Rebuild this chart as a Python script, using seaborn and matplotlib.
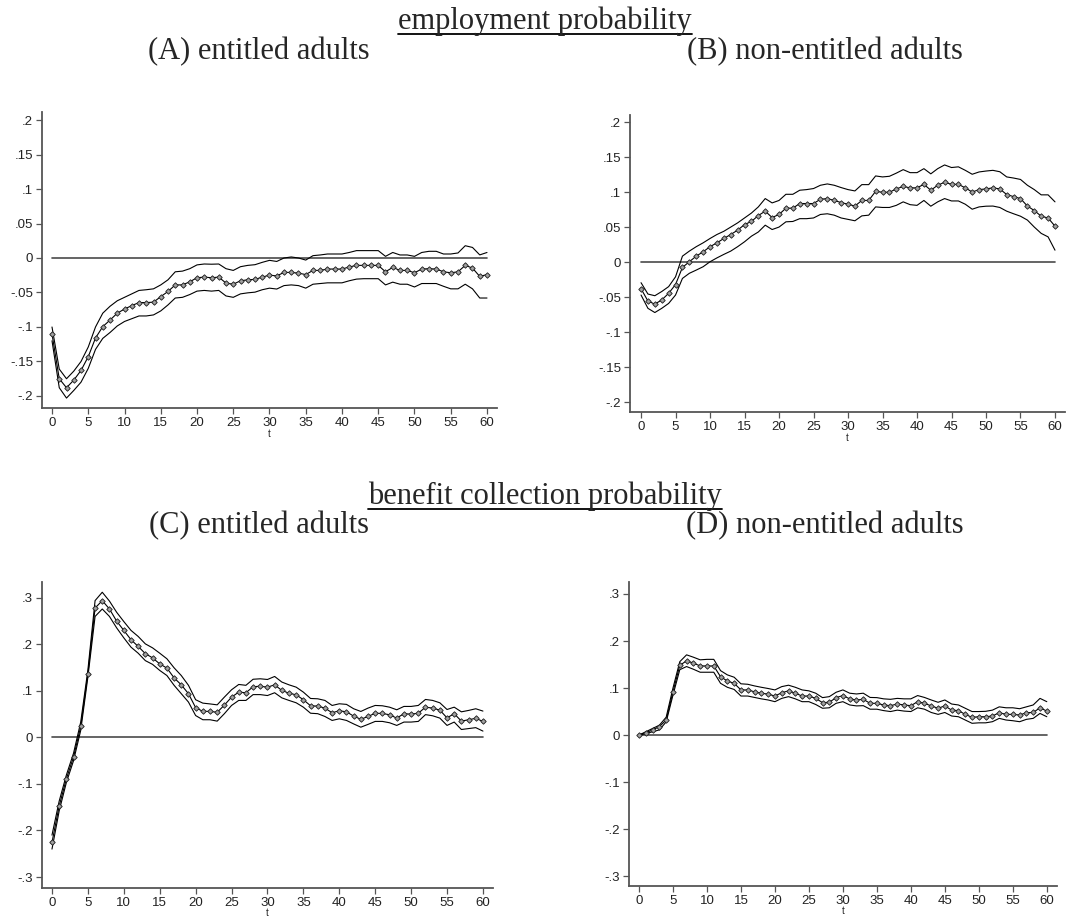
import numpy as np
import pandas as pd
import matplotlib
matplotlib.use("Agg")
import matplotlib.pyplot as plt
from matplotlib.lines import Line2D
from matplotlib.ticker import FuncFormatter
import seaborn as sns

# ---------------- data ----------------
t = list(range(61))

emp_ent_mean = [-0.110, -0.175, -0.188, -0.177, -0.163, -0.143, -0.116, -0.0995, -0.090, -0.080,
                -0.074, -0.069, -0.0646, -0.0646, -0.064, -0.056, -0.0485, -0.039, -0.039, -0.0345,
                -0.0286, -0.0277, -0.0286, -0.0277, -0.0364, -0.038, -0.033, -0.0316, -0.031, -0.0277,
                -0.0248, -0.026, -0.0209, -0.0209, -0.022, -0.024, -0.018, -0.018, -0.016, -0.016,
                -0.016, -0.013, -0.0107, -0.0107, -0.0107, -0.0107, -0.020, -0.0136, -0.018, -0.018,
                -0.0214, -0.016, -0.0155, -0.016, -0.020, -0.0214, -0.020, -0.0107, -0.0146, -0.0267,
                -0.024]
emp_ent_hi = [-0.100, -0.161, -0.175, -0.164, -0.150, -0.129, -0.100, -0.080, -0.070, -0.062,
              -0.057, -0.052, -0.047, -0.046, -0.0447, -0.039, -0.0316, -0.020, -0.019, -0.0155,
              -0.010, -0.0087, -0.009, -0.0087, -0.0155, -0.018, -0.0126, -0.0107, -0.0097, -0.0063,
              -0.0034, -0.005, 0.000, 0.0015, 0.000, -0.003, 0.0034, 0.0044, 0.0058, 0.0058,
              0.0058, 0.008, 0.0107, 0.0107, 0.0107, 0.0107, 0.0024, 0.008, 0.0044, 0.0044,
              0.0024, 0.008, 0.0097, 0.0097, 0.0058, 0.0058, 0.0073, 0.0178, 0.0153, 0.0045,
              0.008]
emp_ent_lo = [-0.120, -0.188, -0.203, -0.192, -0.180, -0.160, -0.1325, -0.1165, -0.108, -0.0985,
              -0.092, -0.088, -0.084, -0.084, -0.0825, -0.0767, -0.068, -0.058, -0.057, -0.053,
              -0.048, -0.047, -0.048, -0.047, -0.055, -0.057, -0.052, -0.0505, -0.0495, -0.046,
              -0.0437, -0.045, -0.040, -0.039, -0.040, -0.0437, -0.038, -0.037, -0.036, -0.036,
              -0.036, -0.033, -0.0306, -0.030, -0.030, -0.030, -0.039, -0.035, -0.038, -0.038,
              -0.042, -0.037, -0.037, -0.037, -0.041, -0.0447, -0.0447, -0.038, -0.0447, -0.058,
              -0.058]

emp_non_mean = [-0.038, -0.0556, -0.060, -0.054, -0.0446, -0.032, -0.0076, 0.0005, 0.0085, 0.0147,
                0.022, 0.0275, 0.0337, 0.0394, 0.0456, 0.0536, 0.058, 0.0665, 0.0727, 0.0636,
                0.068, 0.077, 0.077, 0.0836, 0.0836, 0.0836, 0.0897, 0.0907, 0.088, 0.085,
                0.0826, 0.080, 0.088, 0.088, 0.101, 0.0997, 0.0997, 0.1045, 0.108, 0.106,
                0.106, 0.111, 0.1026, 0.1097, 0.114, 0.111, 0.111, 0.106, 0.100, 0.1035,
                0.1045, 0.106, 0.1045, 0.0964, 0.0935, 0.0907, 0.080, 0.0736, 0.0655, 0.063,
                0.0513]
emp_non_hi = [-0.0294, -0.0456, -0.048, -0.042, -0.035, -0.021, 0.0085, 0.0157, 0.022, 0.0275,
              0.0337, 0.0394, 0.044, 0.050, 0.056, 0.063, 0.070, 0.0788, 0.0907, 0.0845,
              0.088, 0.0968, 0.0968, 0.1026, 0.1035, 0.105, 0.1097, 0.1116, 0.1097, 0.1064,
              0.1035, 0.1016, 0.1106, 0.1106, 0.123, 0.1216, 0.1225, 0.127, 0.132, 0.1277,
              0.1277, 0.1334, 0.126, 0.1334, 0.1387, 0.135, 0.136, 0.131, 0.1254, 0.1287,
              0.130, 0.131, 0.129, 0.1216, 0.120, 0.118, 0.1097, 0.1035, 0.096, 0.096,
              0.086]
emp_non_lo = [-0.047, -0.066, -0.072, -0.066, -0.059, -0.047, -0.0233, -0.016, -0.0114, -0.0066,
              0.0005, 0.006, 0.011, 0.0157, 0.022, 0.029, 0.037, 0.043, 0.0527, 0.0465,
              0.050, 0.0575, 0.058, 0.062, 0.062, 0.063, 0.068, 0.069, 0.067, 0.063,
              0.061, 0.059, 0.066, 0.067, 0.0788, 0.078, 0.078, 0.081, 0.086, 0.082,
              0.081, 0.088, 0.0798, 0.086, 0.0907, 0.0873, 0.0873, 0.0826, 0.0755, 0.0788,
              0.0798, 0.080, 0.078, 0.0727, 0.069, 0.0655, 0.060, 0.050, 0.041, 0.036,
              0.017]

ben_ent_mean = [-0.2255, -0.1475, -0.089, -0.042, 0.0236, 0.137, 0.278, 0.294, 0.276, 0.250,
                0.230, 0.210, 0.1955, 0.180, 0.171, 0.158, 0.149, 0.128, 0.113, 0.094,
                0.064, 0.056, 0.056, 0.054, 0.0694, 0.0866, 0.0973, 0.096, 0.109, 0.110,
                0.108, 0.113, 0.101, 0.095, 0.0916, 0.081, 0.068, 0.0673, 0.063, 0.053,
                0.0573, 0.055, 0.0458, 0.039, 0.045, 0.052, 0.0515, 0.0487, 0.0415, 0.051,
                0.050, 0.052, 0.065, 0.063, 0.0587, 0.042, 0.051, 0.035, 0.038, 0.041,
                0.0344]
ben_ent_hi = [-0.210, -0.137, -0.081, -0.034, 0.033, 0.145, 0.294, 0.312, 0.293, 0.269,
              0.249, 0.230, 0.217, 0.201, 0.1925, 0.181, 0.169, 0.1496, 0.133, 0.112,
              0.081, 0.0737, 0.072, 0.070, 0.0866, 0.1024, 0.1138, 0.112, 0.125, 0.126,
              0.1245, 0.131, 0.119, 0.113, 0.108, 0.0973, 0.0837, 0.083, 0.0795, 0.0687,
              0.0723, 0.071, 0.0616, 0.0558, 0.063, 0.0687, 0.068, 0.065, 0.0594, 0.0666,
              0.0666, 0.0687, 0.0816, 0.0795, 0.0744, 0.060, 0.065, 0.055, 0.058, 0.0616,
              0.0566]
ben_ent_lo = [-0.240, -0.158, -0.097, -0.050, 0.015, 0.130, 0.260, 0.276, 0.260, 0.2355,
              0.214, 0.194, 0.181, 0.165, 0.157, 0.144, 0.133, 0.112, 0.094, 0.076,
              0.047, 0.038, 0.038, 0.035, 0.051, 0.0687, 0.0795, 0.0795, 0.092, 0.092,
              0.090, 0.096, 0.085, 0.0795, 0.0744, 0.065, 0.052, 0.051, 0.045, 0.0365,
              0.040, 0.0365, 0.029, 0.022, 0.028, 0.0344, 0.0344, 0.0315, 0.0258, 0.033,
              0.033, 0.0344, 0.049, 0.0465, 0.0415, 0.0258, 0.033, 0.017, 0.019, 0.021,
              0.0136]

ben_non_mean = [0.000, 0.005, 0.0107, 0.018, 0.032, 0.092, 0.148, 0.158, 0.153, 0.147,
                0.147, 0.147, 0.124, 0.115, 0.110, 0.096, 0.096, 0.092, 0.089, 0.087,
                0.083, 0.090, 0.094, 0.089, 0.083, 0.083, 0.078, 0.069, 0.0697, 0.0796,
                0.084, 0.077, 0.0746, 0.076, 0.0675, 0.0675, 0.064, 0.0625, 0.066, 0.064,
                0.0625, 0.071, 0.0675, 0.062, 0.057, 0.062, 0.053, 0.052, 0.044, 0.0377,
                0.039, 0.039, 0.0405, 0.0476, 0.044, 0.044, 0.0426, 0.0476, 0.048, 0.058,
                0.051]
ben_non_hi = [0.000, 0.007, 0.014, 0.021, 0.038, 0.100, 0.156, 0.1706, 0.1656, 0.160,
              0.161, 0.161, 0.137, 0.128, 0.123, 0.109, 0.108, 0.1045, 0.1016, 0.099,
              0.096, 0.103, 0.106, 0.1016, 0.096, 0.094, 0.089, 0.0796, 0.0817, 0.091,
              0.096, 0.089, 0.0874, 0.089, 0.080, 0.0796, 0.077, 0.076, 0.078, 0.077,
              0.077, 0.084, 0.080, 0.0746, 0.0697, 0.0746, 0.066, 0.064, 0.057, 0.050,
              0.050, 0.0505, 0.053, 0.060, 0.058, 0.058, 0.056, 0.060, 0.064, 0.078,
              0.071]
ben_non_lo = [0.000, 0.003, 0.007, 0.011, 0.028, 0.085, 0.139, 0.1457, 0.140, 0.1336,
              0.1336, 0.1336, 0.110, 0.1016, 0.097, 0.083, 0.083, 0.080, 0.077, 0.0746,
              0.071, 0.078, 0.0817, 0.077, 0.071, 0.071, 0.065, 0.057, 0.058, 0.0675,
              0.071, 0.064, 0.062, 0.0625, 0.055, 0.055, 0.052, 0.050, 0.053, 0.051,
              0.050, 0.058, 0.055, 0.048, 0.044, 0.048, 0.0405, 0.039, 0.032, 0.025,
              0.026, 0.026, 0.0284, 0.0355, 0.032, 0.0305, 0.0284, 0.0334, 0.0355, 0.046,
              0.039]

section_titles = ["employment probability", "benefit collection probability"]
panel_titles = ["(A) entitled adults", "(B) non-entitled adults",
                "(C) entitled adults", "(D) non-entitled adults"]
x_ticks = list(range(0, 61, 5))
y_ticks_emp = [-0.2, -0.15, -0.1, -0.05, 0, 0.05, 0.1, 0.15, 0.2]
y_ticks_ben = [-0.3, -0.2, -0.1, 0, 0.1, 0.2, 0.3]
x_label = "t"

# ---------------- style ----------------
sns.set_style("white")
plt.rcParams["font.family"] = ["Liberation Sans", "DejaVu Sans"]

fig = plt.figure(figsize=(10.9, 9.19), dpi=100)
W, H = 1090.0, 919.0


def px_axes(left, right, top, bottom):
    return fig.add_axes([left / W, 1 - bottom / H, (right - left) / W, (bottom - top) / H])


panels = [
    dict(box=(42, 497, 112, 408), xlim=(-1.38, 61.38), ylim=(-0.2174, 0.2116), tbase=437,
         mean=emp_ent_mean, hi=emp_ent_hi, lo=emp_ent_lo, yt=y_ticks_emp),
    dict(box=(630, 1065, 115, 412), xlim=(-1.6, 61.45), ylim=(-0.214, 0.21), tbase=441,
         mean=emp_non_mean, hi=emp_non_hi, lo=emp_non_lo, yt=y_ticks_emp),
    dict(box=(42, 493, 582, 888), xlim=(-1.39, 61.4), ylim=(-0.3236, 0.334), tbase=916,
         mean=ben_ent_mean, hi=ben_ent_hi, lo=ben_ent_lo, yt=y_ticks_ben),
    dict(box=(629, 1057, 582, 886), xlim=(-1.47, 61.5), ylim=(-0.321, 0.3255), tbase=914,
         mean=ben_non_mean, hi=ben_non_hi, lo=ben_non_lo, yt=y_ticks_ben),
]


def fmt(v, pos):
    if abs(v) < 1e-9:
        return "0"
    s = ("%.2f" % v).rstrip("0")
    s = s.replace("0.", ".")
    return s


for p in panels:
    ax = px_axes(*p["box"])
    df = pd.DataFrame({"t": t, "mean": p["mean"], "hi": p["hi"], "lo": p["lo"],
                       "zero": np.zeros(len(t))})
    sns.lineplot(data=df, x="t", y="zero", ax=ax, color="#4a4a4a", linewidth=1.2)
    sns.lineplot(data=df, x="t", y="hi", ax=ax, color="black", linewidth=0.8)
    sns.lineplot(data=df, x="t", y="lo", ax=ax, color="black", linewidth=0.8)
    sns.lineplot(data=df, x="t", y="mean", ax=ax, color="black", linewidth=0.8,
                 marker="D", markersize=2.8, markerfacecolor="#a0a0a0",
                 markeredgecolor="#1a1a1a", markeredgewidth=0.6)
    ax.set_xlim(*p["xlim"])
    ax.set_ylim(*p["ylim"])
    ax.set_xticks(x_ticks)
    ax.set_yticks(p["yt"])
    ax.yaxis.set_major_formatter(FuncFormatter(fmt))
    ax.set_ylabel("")
    ax.set_xlabel(x_label, fontsize=7)
    left, right, top, bottom = p["box"]
    ax.xaxis.label.set_va("baseline")
    ax.xaxis.set_label_coords(0.5, -(p["tbase"] - bottom) / (bottom - top))
    for s in ["top", "right"]:
        ax.spines[s].set_visible(False)
    for s in ["left", "bottom"]:
        ax.spines[s].set_color("#555555")
        ax.spines[s].set_linewidth(1.3)
    ax.tick_params(axis="both", direction="out", length=4, width=0.9, color="#555555",
                   labelsize=9.5, labelcolor="#222222", pad=2.5, left=True, bottom=True)
    ax.grid(False)

serif = ["Liberation Serif", "DejaVu Serif"]
fs = 22
sec_texts = []
sec_texts.append(fig.text(0.5, 1 - 21 / H, section_titles[0], ha="center", va="center",
                          fontsize=fs, family=serif))
sec_texts.append(fig.text(0.5, 1 - 496 / H, section_titles[1], ha="center", va="center",
                          fontsize=fs, family=serif))
fig.text(259 / W, 1 - 52 / H, panel_titles[0], ha="center", va="center", fontsize=fs, family=serif)
fig.text(825 / W, 1 - 52 / H, panel_titles[1], ha="center", va="center", fontsize=fs, family=serif)
fig.text(259 / W, 1 - 526 / H, panel_titles[2], ha="center", va="center", fontsize=fs, family=serif)
fig.text(825 / W, 1 - 526 / H, panel_titles[3], ha="center", va="center", fontsize=fs, family=serif)

fig.canvas.draw()
r = fig.canvas.get_renderer()
for tx in sec_texts:
    bb = tx.get_window_extent(renderer=r)
    yline = (bb.y0 + 2) / fig.bbox.height
    fig.add_artist(Line2D([bb.x0 / fig.bbox.width, bb.x1 / fig.bbox.width], [yline, yline],
                          color="black", linewidth=1.3, transform=fig.transFigure))

fig.savefig("out.png", dpi=100, facecolor="white")
